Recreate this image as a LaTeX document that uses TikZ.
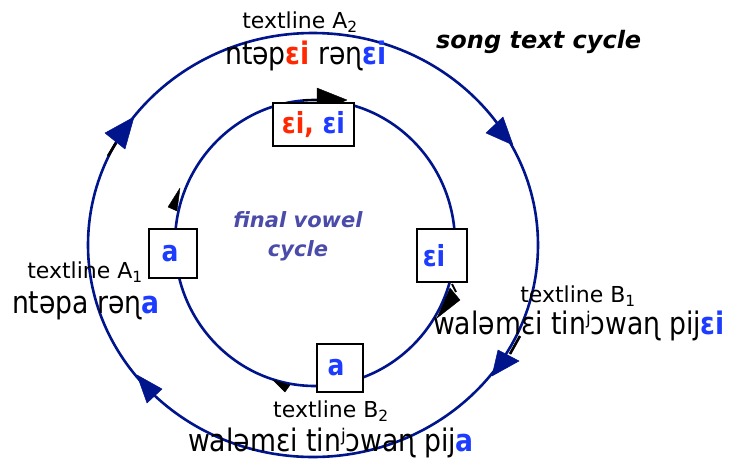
\documentclass[tikz,border=0pt]{standalone}
\usepackage{fontspec}
\setmainfont{DejaVu Sans}
\newfontfamily\ipaff[FakeStretch=0.86]{DejaVu Sans}
\definecolor{navy}{RGB}{0,20,140}
\definecolor{vred}{RGB}{255,40,0}
\definecolor{vblue}{RGB}{30,60,255}
\definecolor{fvcol}{RGB}{75,75,170}
\newcommand\lblfont{\fontsize{22}{26}\selectfont}
\newcommand\ipafont{\ipaff\fontsize{31}{36}\selectfont}
\newcommand\boxfont{\ipaff\fontsize{29}{34}\selectfont\bfseries}
\newcommand\Vr[1]{\textcolor{vred}{\textbf{#1}}}
\newcommand\Vb[1]{\textcolor{vblue}{\textbf{#1}}}
\newcommand\padR[1]{\rule{#1}{0pt}}
\tikzset{
  cyc/.style={draw=navy, line width=2.6pt},
  navyhead/.style={fill=navy, draw=navy, line width=0.5pt, line join=round},
  blackhead/.style={fill=black, draw=black, line width=0.4pt, line join=round},
  stub/.style={draw=black, line width=2.6pt},
  vbox/.style={draw=black, fill=white, line width=2.4pt, inner sep=0pt, font=\boxfont},
  lbl/.style={inner sep=0pt, anchor=base, font=\lblfont},
  ipa/.style={inner sep=0pt, anchor=base, font=\ipafont},
}
\begin{document}
\begin{tikzpicture}[x=1pt,y=-1pt]
\useasboundingbox (0,0) rectangle (732,461);
% outer song text cycle
\draw[cyc] (313,245) ellipse [x radius=225, y radius=212];
% inner final vowel cycle
\draw[cyc] (315,243) ellipse [x radius=140, y radius=143];
% outer arrowheads (clockwise)
\draw[stub] (108,156) -- (116,143);
\fill[navyhead] (134,117) -- (125,149) -- (105,133) -- cycle;
\fill[navyhead] (513,145) -- (486,133) -- (503,117) -- cycle;
\draw[stub] (520,336) -- (510,354);
\fill[navyhead] (492,376) -- (498,350) -- (519,361) -- cycle;
\fill[navyhead] (137,375) -- (162,389) -- (147,403) -- cycle;
% inner arrowheads (black half heads)
\draw[stub] (303,100) -- (330,100);
\fill[blackhead] (317,88) -- (347,100) -- (317,112) -- cycle;
\fill[blackhead] (180,188) -- (177,211) -- (168,207) -- cycle;
\draw[stub, line width=2pt] (452,284) -- (456,292);
\fill[blackhead] (437,318) -- (450,288) -- (460,300) -- cycle;
\fill[blackhead] (273,380) -- (290,385) -- (285,392) -- cycle;
% vowel boxes
\node[vbox, minimum width=81pt, minimum height=43pt] (btop) at (313.5,124.5) {\Vr{εi,} \Vb{εi}};
\node[vbox, minimum width=48pt, minimum height=49pt] (bleft) at (173,253.5) {\Vb{a}\padR{6pt}};
\node[vbox, minimum width=50pt, minimum height=53pt] (bright) at (442,255.5) {\Vb{εi}\padR{16pt}};
\node[vbox, minimum width=46pt, minimum height=48pt] (bbot) at (340,368) {\Vb{a}\padR{8pt}};
% labels
\node[lbl] (tA2) at (300,28) {textline A\textsubscript{2}};
\node[ipa] (iA2) at (306,64) {ntəp\Vr{εi} rəɳ\Vb{εi}};
\node[inner sep=0pt, anchor=base west, font=\fontsize{24}{28}\selectfont\bfseries\itshape] (song) at (436,48) {song text cycle};
\node[inner sep=0pt, align=center, text=fvcol, font=\fontsize{21}{29}\selectfont\bfseries\itshape] (fvc) at (298,236) {final vowel\\cycle};
\node[lbl] (tA1) at (85,278) {textline A\textsubscript{1}};
\node[ipa] (iA1) at (86,313) {ntəpa rəɳ\Vb{a}};
\node[lbl] (tB1) at (578,302) {textline B\textsubscript{1}};
\node[ipa] (iB1) at (579,334) {waləmεi tinʲɔwaɳ pij\Vb{εi}};
\node[lbl] (tB2) at (331,417) {textline B\textsubscript{2}};
\node[ipa] (iB2) at (331,451) {waləmεi tinʲɔwaɳ pij\Vb{a}};
\end{tikzpicture}
\end{document}
